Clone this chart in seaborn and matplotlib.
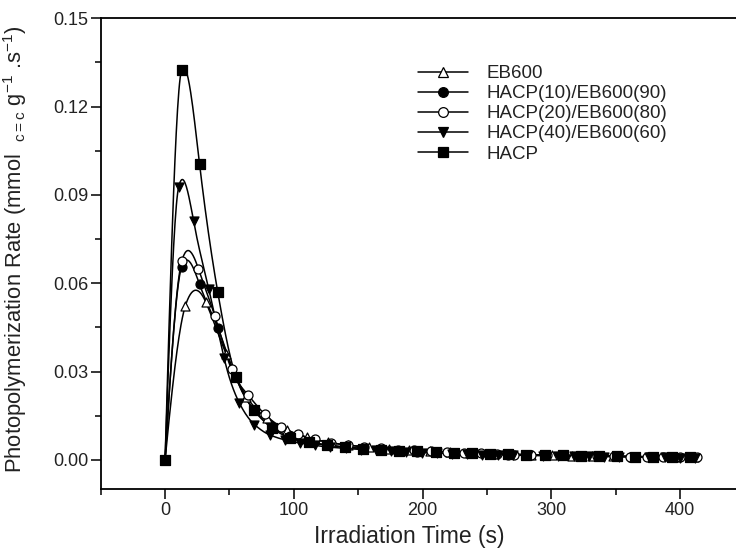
import numpy as np
import pandas as pd
import matplotlib
matplotlib.use("Agg")
import matplotlib.pyplot as plt
from matplotlib.lines import Line2D
import seaborn as sns

# ---------------- data ----------------
series_names = ["EB600", "HACP(10)/EB600(90)", "HACP(20)/EB600(80)",
                "HACP(40)/EB600(60)", "HACP"]

eb600_t = [0, 15.8, 31.6, 47.4, 63.2, 79.0, 94.8, 110.6, 126.4, 142.2, 158.0,
           173.8, 189.6, 205.4, 221.2, 237.0, 252.8, 268.6, 284.4, 300.2, 316.0,
           331.8, 347.6, 363.4, 379.2, 395.0, 410.8]
eb600_v = [0, 0.0524, 0.0536, 0.0360, 0.0215, 0.0142, 0.0100, 0.0076, 0.0060,
           0.0050, 0.0043, 0.0037, 0.0033, 0.0030, 0.0027, 0.0024, 0.0021, 0.0019,
           0.0017, 0.0015, 0.0014, 0.0013, 0.0012, 0.0011, 0.0010, 0.0009, 0.0009]

hacp_t = [0, 12.8, 26.8, 40.9, 55.0, 69.1, 83.2, 97.3, 111.4, 125.5, 139.6,
          153.7, 167.8, 181.9, 196.0, 210.1, 224.2, 238.3, 252.4, 266.5, 280.6,
          294.7, 308.8, 322.9, 337.0, 351.1, 365.2, 379.3, 393.4, 407.5]
hacp_v = [0, 0.1323, 0.1004, 0.0570, 0.0283, 0.0171, 0.0107, 0.0075, 0.0059,
          0.0050, 0.0043, 0.0038, 0.0034, 0.0031, 0.0029, 0.0027, 0.0025, 0.0023,
          0.0021, 0.0019, 0.0018, 0.0016, 0.0015, 0.0014, 0.0013, 0.0012, 0.0011,
          0.0010, 0.0010, 0.0009]

hacp10_t = hacp_t
hacp10_v = [0, 0.0655, 0.0596, 0.0449, 0.0280, 0.0168, 0.0110, 0.0080, 0.0062,
            0.0051, 0.0044, 0.0039, 0.0035, 0.0031, 0.0028, 0.0026, 0.0024, 0.0022,
            0.0020, 0.0018, 0.0017, 0.0016, 0.0015, 0.0014, 0.0013, 0.0012, 0.0011,
            0.0011, 0.0010, 0.0010]

hacp20_t = [0, 12.9, 25.8, 38.7, 51.6, 64.5, 77.4, 90.3, 103.2, 116.1, 129.0,
            141.9, 154.8, 167.7, 180.6, 193.5, 206.4, 219.3, 232.2, 245.1, 258.0,
            270.9, 283.8, 296.7, 309.6, 322.5, 335.4, 348.3, 361.2, 374.1, 387.0,
            399.9, 412.8]
hacp20_v = [0, 0.0674, 0.0650, 0.0488, 0.0307, 0.0220, 0.0155, 0.0112, 0.0087,
            0.0070, 0.0058, 0.0050, 0.0044, 0.0039, 0.0035, 0.0032, 0.0029, 0.0026,
            0.0024, 0.0022, 0.0020, 0.0018, 0.0017, 0.0016, 0.0015, 0.0014, 0.0013,
            0.0012, 0.0011, 0.0010, 0.0010, 0.0009, 0.0009]

hacp40_t = [0, 10.5, 22.2, 34.0, 45.8, 57.6, 69.4, 81.2, 93.0, 104.8, 116.6,
            128.4, 140.2, 152.0, 163.8, 175.6, 187.4, 199.2, 211.0, 222.8, 234.6,
            246.4, 258.2, 270.0, 281.8, 293.6, 305.4, 317.2, 329.0, 340.8, 352.6,
            364.4, 376.2, 388.0, 399.8, 411.6]
hacp40_v = [0, 0.0926, 0.0810, 0.0579, 0.0347, 0.0194, 0.0120, 0.0085, 0.0068,
            0.0057, 0.0049, 0.0043, 0.0039, 0.0035, 0.0032, 0.0029, 0.0027, 0.0025,
            0.0023, 0.0021, 0.0020, 0.0018, 0.0017, 0.0016, 0.0015, 0.0014, 0.0013,
            0.0012, 0.0012, 0.0011, 0.0010, 0.0010, 0.0009, 0.0009, 0.0008, 0.0008]

x_major_ticks = [0, 100, 200, 300, 400]
y_major_ticks = [0.00, 0.03, 0.06, 0.09, 0.12, 0.15]
y_tick_labels = ["0.00", "0.03", "0.06", "0.09", "0.12", "0.15"]

# ---------------- styling ----------------
sns.set_theme(style="ticks")
plt.rcParams["font.family"] = ["Liberation Sans", "DejaVu Sans"]
plt.rcParams["mathtext.fontset"] = "custom"
plt.rcParams["mathtext.rm"] = "Liberation Sans"
plt.rcParams["mathtext.it"] = "Liberation Sans"

series = [
    (series_names[0], eb600_t, eb600_v, "^", "white"),
    (series_names[1], hacp10_t, hacp10_v, "o", "black"),
    (series_names[2], hacp20_t, hacp20_v, "o", "white"),
    (series_names[3], hacp40_t, hacp40_v, "v", "black"),
    (series_names[4], hacp_t, hacp_v, "s", "black"),
]


def _hermite(x, y, t, xs):
    npt = len(x)
    idx = np.clip(np.searchsorted(x, xs) - 1, 0, npt - 2)
    h = x[idx + 1] - x[idx]
    s = (xs - x[idx]) / h
    h00 = 2 * s ** 3 - 3 * s ** 2 + 1
    h10 = s ** 3 - 2 * s ** 2 + s
    h01 = -2 * s ** 3 + 3 * s ** 2
    h11 = s ** 3 - s ** 2
    return h00 * y[idx] + h10 * h * t[idx] + h01 * y[idx + 1] + h11 * h * t[idx + 1]


def akima_slopes(x, y):
    m = np.diff(y) / np.diff(x)
    mm1 = 2 * m[0] - m[1]
    mm2 = 2 * mm1 - m[0]
    mp1 = 2 * m[-1] - m[-2]
    mp2 = 2 * mp1 - m[-1]
    me = np.concatenate([[mm2, mm1], m, [mp1, mp2]])
    t = np.zeros(len(x))
    for i in range(len(x)):
        k = i + 2
        w1 = abs(me[k + 1] - me[k])
        w2 = abs(me[k - 1] - me[k - 2])
        if w1 + w2 < 1e-15:
            t[i] = 0.5 * (me[k - 1] + me[k])
        else:
            t[i] = (w1 * me[k - 1] + w2 * me[k]) / (w1 + w2)
    return t


def natural_slopes(x, y):
    npt = len(x)
    h = np.diff(x)
    A = np.zeros((npt, npt))
    r = np.zeros(npt)
    A[0, 0] = 1.0
    A[-1, -1] = 1.0
    for i in range(1, npt - 1):
        A[i, i - 1] = h[i - 1]
        A[i, i] = 2 * (h[i - 1] + h[i])
        A[i, i + 1] = h[i]
        r[i] = 6 * ((y[i + 1] - y[i]) / h[i] - (y[i] - y[i - 1]) / h[i - 1])
    M = np.linalg.solve(A, r)
    t = np.zeros(npt)
    t[:-1] = (y[1:] - y[:-1]) / h - h * (2 * M[:-1] + M[1:]) / 6
    t[-1] = (y[-1] - y[-2]) / h[-1] + h[-1] * (M[-2] + 2 * M[-1]) / 6
    return t


def smooth_line(x, y, n=800, blend=0.5):
    """Smooth connecting line through the measured points (Origin-like spline)."""
    x = np.asarray(x, float)
    y = np.asarray(y, float)
    t = blend * natural_slopes(x, y) + (1 - blend) * akima_slopes(x, y)
    xs = np.linspace(x[0], x[-1], n)
    return xs, _hermite(x, y, t, xs)


fig = plt.figure(figsize=(7.36, 5.48), dpi=100)
W, H = 736, 548
left_px, right_px, top_px, bottom_px = 100.7, 744.5, 18.3, 489.3
ax = fig.add_axes([left_px / W, 1 - bottom_px / H,
                   (right_px - left_px) / W, (bottom_px - top_px) / H])

curve_frames = []
point_frames = []
for name, t, v, mk, fc in series:
    xs, ys = smooth_line(t, v)
    curve_frames.append(pd.DataFrame({"t": xs, "rate": ys, "series": name}))
    point_frames.append(pd.DataFrame({"t": t, "rate": v, "series": name}))

curves = pd.concat(curve_frames, ignore_index=True)
points = pd.concat(point_frames, ignore_index=True)

sns.lineplot(data=curves, x="t", y="rate", hue="series", hue_order=series_names,
             palette=["black"] * 5, estimator=None, sort=False, linewidth=1.1,
             legend=False, ax=ax, zorder=2)

handles = []
for name, t, v, mk, fc in series:
    sub = points[points["series"] == name]
    sns.scatterplot(data=sub, x="t", y="rate", marker=mk, s=42, color=fc,
                    edgecolor="black", linewidth=0.9, legend=False, ax=ax,
                    zorder=3)
    handles.append(Line2D([0], [0], color="black", lw=1.1, marker=mk,
                          markersize=7, markerfacecolor=fc,
                          markeredgecolor="black", markeredgewidth=0.9))

ax.set_xlim(-50, 450)
ax.set_ylim(-0.01, 0.15)
ax.set_xticks(x_major_ticks)
ax.set_xticks([-50, 50, 150, 250, 350, 450], minor=True)
ax.set_yticks(y_major_ticks)
ax.set_yticklabels(y_tick_labels)
ax.set_yticks([-0.015 + 0.03 * k for k in range(1, 6)], minor=True)
ax.tick_params(which="major", direction="out", length=7, width=1.1,
               labelsize=13, color="black", labelcolor="#222222", pad=2)
ax.tick_params(which="minor", direction="out", length=4.5, width=1.1,
               color="black")
for s in ax.spines.values():
    s.set_linewidth(1.3)
    s.set_color("black")

ax.set_xlabel("Irradiation Time (s)", fontsize=16.5, color="#222222", labelpad=2)
ax.xaxis.set_label_coords(0.48, -0.075)
ax.set_ylabel(r"Photopolymerization Rate (mmol  $_{\mathrm{c=c}}$ g$^{-1}$ .s$^{-1}$)",
              fontsize=15.8, color="#222222")
ax.yaxis.set_label_coords(-0.112, 0.51)

leg = fig.legend(handles, series_names, loc="upper left",
                 bbox_to_anchor=(418 / W, 1 - 65 / H), frameon=False,
                 fontsize=13.5, handlelength=2.67, handletextpad=1.0,
                 labelspacing=0.16, borderpad=0, borderaxespad=0)
for txt in leg.get_texts():
    txt.set_color("#222222")

fig.savefig("out.png", dpi=100)
